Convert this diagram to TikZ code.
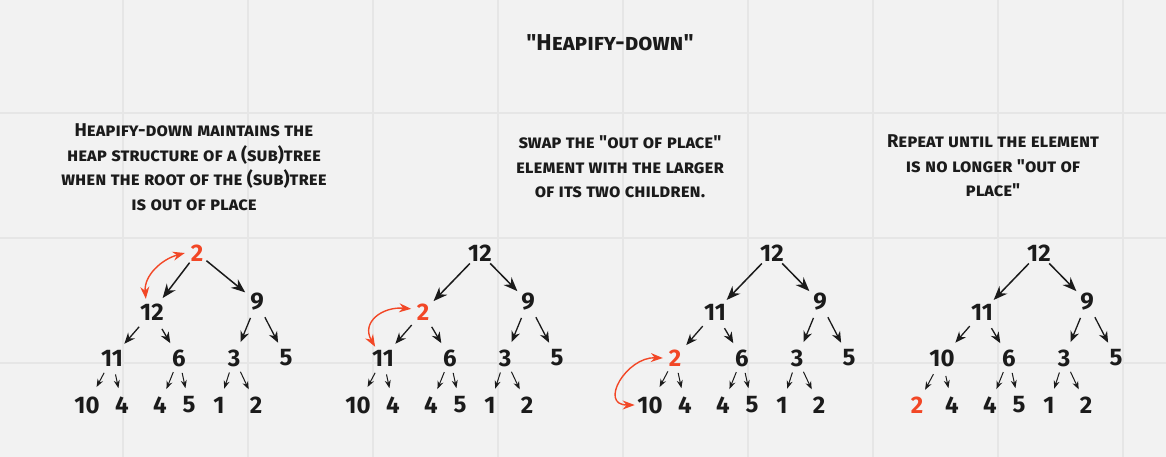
\documentclass[tikz,border=0pt]{standalone}
\usepackage{fontspec}
\usetikzlibrary{arrows.meta}
\setmainfont{Fira Sans}
\definecolor{heapred}{HTML}{F24726}
\definecolor{ink}{HTML}{1B1B1B}
\definecolor{board}{HTML}{F2F2F2}
\definecolor{gridline}{HTML}{E6E6E6}
\tikzset{>=stealth,
  num/.style={circle, inner sep=0pt, minimum size=24pt, text=ink,
    font=\bfseries\fontsize{24}{24}\selectfont},
  hot/.style={num, text=heapred},
  note/.style={align=center, text=ink, font=\bfseries\scshape\fontsize{18.5}{24.5}\selectfont},
  edgeA/.style={->, ink, line width=1.5pt, >={Stealth[length=14pt,width=11pt]},
    shorten <=0pt, shorten >=3pt},
  edgeB/.style={->, ink, line width=1.3pt, >={Stealth[length=11pt,width=9pt]},
    shorten <=5pt, shorten >=5pt},
  edgeC/.style={->, ink, line width=1pt, >={Stealth[length=8pt,width=6pt]},
    shorten <=3pt, shorten >=5pt},
  swaparrow/.style={<->, heapred, line width=1.4pt, >={Stealth[length=12pt,width=9pt]}}
}
\newcommand{\heapedges}{%
  \foreach \c in {a,b} \draw[edgeA] (r) -- (\c);
  \foreach \p/\c in {a/c,a/d,b/e,b/f} \draw[edgeB] (\p) -- (\c);
  \foreach \p/\c in {c/g,c/h,d/i,d/j,e/k,e/l} \draw[edgeC] (\p) -- (\c);
}

\begin{document}
\begin{tikzpicture}[x=1pt, y=-1pt]
    % board and grid
    \fill[board] (0,0) rectangle (1166,457);
    \useasboundingbox (0,0) rectangle (1166,457);
    \foreach \x in {123,248,...,1123}
        \draw[gridline, line width=1.2pt] (\x,0) -- (\x,457);
    \foreach \y in {113,238,363}
        \draw[gridline, line width=1.2pt] (0,\y) -- (1166,\y);

    \node[note, font=\bfseries\scshape\fontsize{23}{23}\selectfont] (title) at (610,43) {\textquotedbl Heapify-down\textquotedbl};
    \node[note] (n1) at (194,167) {Heapify-down maintains the\\heap structure of a (sub)tree\\when the root of the (sub)tree\\is out of place};
    \node[note] (n2) at (620,167) {swap the \textquotedbl out of place\textquotedbl\\element with the larger\\of its two children.};
    \node[note] (n3) at (993,166) {Repeat until the element\\is no longer \textquotedbl out of\\place\textquotedbl};

    % tree 1
    \begin{scope}[shift={(209,253)}, name prefix=t1-]
        \node[hot] (r) at (-12,0) {2};
        \node[num] (a) at (-57,59) {12};  \node[num] (b) at (48,49) {9};
        \node[num] (c) at (-97,105) {11}; \node[num] (d) at (-30,105) {6};
        \node[num] (e) at (25,105) {3};   \node[num] (f) at (77,105) {5};
        \node[num] (g) at (-122,152) {10}; \node[num] (h) at (-87,152) {4};
        \node[num] (i) at (-49,152) {4};   \node[num] (j) at (-20,152) {5};
        \node[num] (k) at (10,152) {1};    \node[num] (l) at (47,152) {2};
        \heapedges
        \draw[swaparrow] (a.115) to[out=95, in=195] (r.west);
    \end{scope}

    % tree 2
    \begin{scope}[shift={(480,253)}, name prefix=t2-]
        \node[num] (r) at (0,0) {12};
        \node[hot] (a) at (-57,59) {2};   \node[num] (b) at (48,49) {9};
        \node[num] (c) at (-97,105) {11}; \node[num] (d) at (-30,105) {6};
        \node[num] (e) at (25,105) {3};   \node[num] (f) at (77,105) {5};
        \node[num] (g) at (-122,152) {10}; \node[num] (h) at (-87,152) {4};
        \node[num] (i) at (-49,152) {4};   \node[num] (j) at (-20,152) {5};
        \node[num] (k) at (10,152) {1};    \node[num] (l) at (47,152) {2};
        \heapedges
        \draw[swaparrow] (c.125) to[out=120, in=175, looseness=1.4] (a.165);
    \end{scope}

    % tree 3
    \begin{scope}[shift={(772,253)}, name prefix=t3-]
        \node[num] (r) at (0,0) {12};
        \node[num] (a) at (-57,59) {11};  \node[num] (b) at (48,49) {9};
        \node[hot] (c) at (-97,105) {2};  \node[num] (d) at (-30,105) {6};
        \node[num] (e) at (25,105) {3};   \node[num] (f) at (77,105) {5};
        \node[num] (g) at (-122,152) {10}; \node[num] (h) at (-87,152) {4};
        \node[num] (i) at (-49,152) {4};   \node[num] (j) at (-20,152) {5};
        \node[num] (k) at (10,152) {1};    \node[num] (l) at (47,152) {2};
        \heapedges
        \draw[swaparrow] (c.west) to[out=178, in=180, looseness=1.7] (g.west);
    \end{scope}

    % tree 4
    \begin{scope}[shift={(1039,253)}, name prefix=t4-]
        \node[num] (r) at (0,0) {12};
        \node[num] (a) at (-57,59) {11};  \node[num] (b) at (48,49) {9};
        \node[num] (c) at (-97,105) {10}; \node[num] (d) at (-30,105) {6};
        \node[num] (e) at (25,105) {3};   \node[num] (f) at (77,105) {5};
        \node[hot] (g) at (-122,152) {2};  \node[num] (h) at (-87,152) {4};
        \node[num] (i) at (-49,152) {4};   \node[num] (j) at (-20,152) {5};
        \node[num] (k) at (10,152) {1};    \node[num] (l) at (47,152) {2};
        \heapedges
    \end{scope}
\end{tikzpicture}
\end{document}
